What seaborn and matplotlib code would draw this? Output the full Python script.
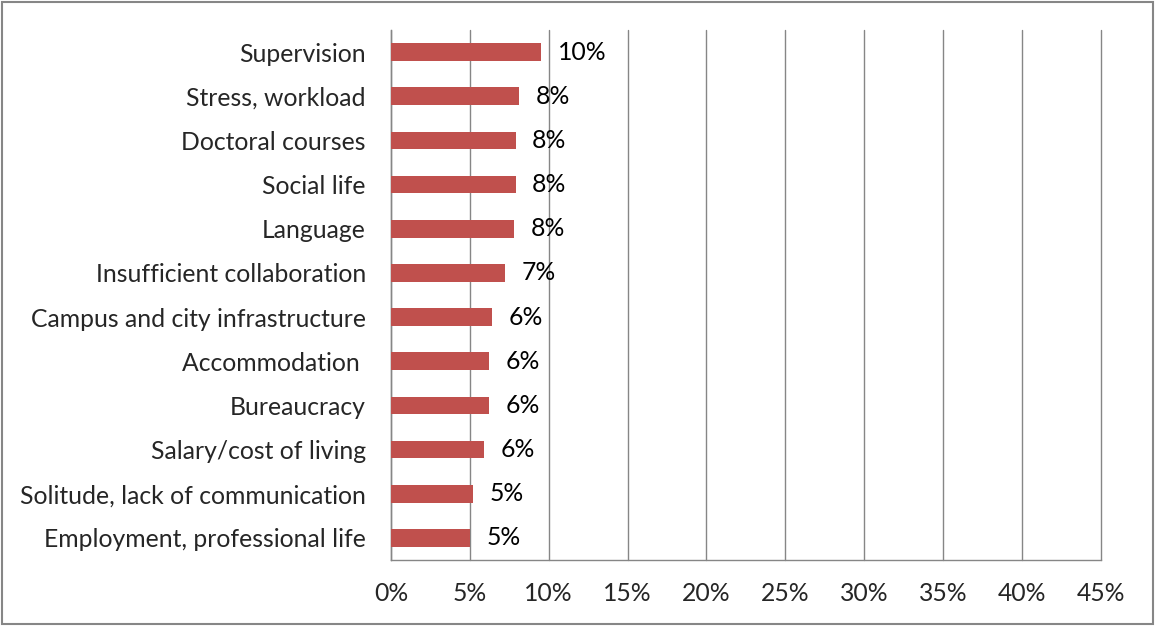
"""
Horizontal bar chart: difficulties reported by doctoral students
"""
import numpy as np
import pandas as pd
import matplotlib
matplotlib.use("Agg")
import matplotlib.pyplot as plt
import seaborn as sns
from matplotlib.ticker import FixedLocator, PercentFormatter

categories = [
    "Supervision",
    "Stress, workload",
    "Doctoral courses",
    "Social life",
    "Language",
    "Insufficient collaboration",
    "Campus and city infrastructure",
    "Accommodation ",
    "Bureaucracy",
    "Salary/cost of living",
    "Solitude, lack of communication",
    "Employment, professional life",
]
shares = [9.5, 8.1, 7.9, 7.9, 7.8, 7.2, 6.4, 6.2, 6.2, 5.9, 5.2, 5.0]
value_labels = ["10%", "8%", "8%", "8%", "8%", "7%", "6%", "6%", "6%", "6%", "5%", "5%"]
x_ticks = [0, 5, 10, 15, 20, 25, 30, 35, 40, 45]

df = pd.DataFrame({"category": categories, "share": shares})

sns.set_style("white")
plt.rcParams["font.family"] = ["Lato", "DejaVu Sans"]

grid_color = "#868686"
bar_color = "#C0504D"
fs = 17.8

fig = plt.figure(figsize=(11.55, 6.26), dpi=100)
ax = fig.add_axes([0.3385, 0.1054, 0.953 - 0.3385, 0.952 - 0.1054])

sns.barplot(data=df, x="share", y="category", orient="h", color=bar_color,
            width=0.4, saturation=1, linewidth=0, ax=ax, zorder=3)

ax.bar_label(ax.containers[0], labels=value_labels, padding=12,
             fontsize=fs, color="black")

ax.set_xlim(0, 45)
ax.set_ylim(len(categories) - 0.5, -0.5)
ax.xaxis.set_major_locator(FixedLocator(x_ticks))
ax.xaxis.set_major_formatter(PercentFormatter(decimals=0))
ax.grid(axis="x", color=grid_color, linewidth=1, zorder=0)
for gl in ax.get_xgridlines():
    gl.set_clip_on(False)
ax.set_xlabel("")
ax.set_ylabel("")

# Excel-style category ticks at the boundaries between bars
ax.set_yticks(np.arange(len(categories)))
ax.set_yticklabels(categories)
ax.tick_params(axis="y", length=0, pad=18, labelsize=fs)
ax.set_yticks(np.arange(len(categories) + 1) - 0.5, minor=True)
ax.tick_params(axis="y", which="minor", length=6, color=grid_color, width=1,
               direction="out")
ax.tick_params(axis="x", length=6, color=grid_color, width=1, direction="out",
               labelsize=fs, pad=10)

for side in ["top", "right"]:
    ax.spines[side].set_visible(False)
for side in ["left", "bottom"]:
    ax.spines[side].set_color(grid_color)
    ax.spines[side].set_linewidth(1)

# outer chart border
fig.patches.append(plt.Rectangle((0.002, 0.003), 0.996, 0.994,
                                 transform=fig.transFigure, fill=False,
                                 edgecolor=grid_color, linewidth=1.5))

plt.savefig("out.png", dpi=100)
plt.close()
